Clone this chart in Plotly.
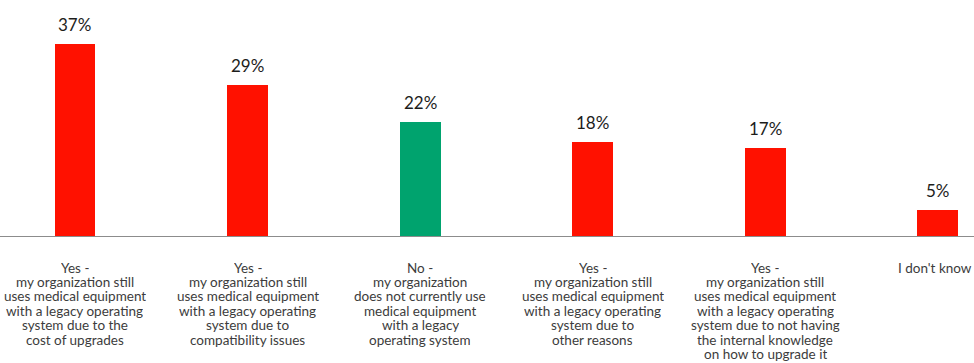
import plotly.graph_objects as go

categories = [
    "Yes -<br>my organization still<br>uses medical equipment<br>with a legacy operating<br>system due to the<br>cost of upgrades",
    "Yes -<br>my organization still<br>uses medical equipment<br>with a legacy operating<br>system due to<br>compatibility issues",
    "No -<br>my organization<br>does not currently use<br>medical equipment<br>with a legacy<br>operating system",
    "Yes -<br>my organization still<br>uses medical equipment<br>with a legacy operating<br>system due to<br>other reasons",
    "Yes -<br>my organization still<br>uses medical equipment<br>with a legacy operating<br>system due to not having<br>the internal knowledge<br>on how to upgrade it",
    "I don't know",
]
values = [37, 29, 22, 18, 17, 5]
bar_colors = ["#ff1100", "#ff1100", "#00a36e", "#ff1100", "#ff1100", "#ff1100"]

idx = list(range(len(categories)))

fig = go.Figure()
fig.add_trace(go.Bar(
    x=idx, y=values, marker=dict(color=bar_colors, line=dict(width=0)),
    width=0.237, showlegend=False, hoverinfo="skip",
))

for i, v in zip(idx, values):
    fig.add_annotation(x=i, y=v, xref="x", yref="y", text=f"{v}%",
                       showarrow=False, yanchor="bottom", yshift=7,
                       font=dict(family="Lato", size=17, color="#1d1d1b"))

for i, c in zip(idx, categories):
    lines = c.split("<br>")
    for k, line in enumerate(lines):
        fig.add_annotation(x=i, y=0, xref="x", yref="paper", text=line,
                           showarrow=False, yanchor="middle", yshift=-31.5 - 14.4 * k,
                           align="center", height=14.4, borderpad=0,
                           xshift=-3 if i == len(categories) - 1 else 0,
                           font=dict(family="Lato", size=13.5, color="#3c3c3c"))

fig.update_layout(
    width=974, height=363,
    margin=dict(l=0, r=0, t=10, b=127),
    paper_bgcolor="white", plot_bgcolor="white",
    bargap=0,
)
fig.update_xaxes(range=[-0.4345, 5.209], showticklabels=False, showgrid=False,
                 zeroline=False, showline=True, linecolor="#8c8c8c", linewidth=1,
                 ticks="")
fig.update_yaxes(range=[0, 43.5], visible=False, showgrid=False, zeroline=False)

fig.write_html("out.html", config={"displayModeBar": False},
               post_script="document.body.style.margin='0';document.body.style.overflow='hidden';")
